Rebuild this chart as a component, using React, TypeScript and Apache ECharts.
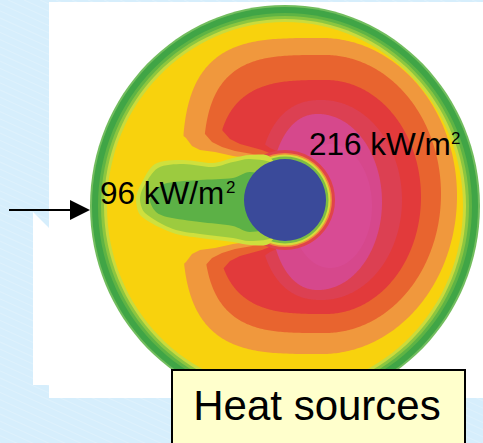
import { useEffect, useRef } from "react";
import * as echarts from "echarts";

// ---- data ----
const fluxValues = [96, 216]; // kW/m² labels: edge of plume, hottest zone
const fluxUnit = "kW/m";
const fluxSup = "2";
const boxLabel = "Heat sources";

// contour bands (outermost first)
const bandColors = ["#f0983d", "#e8642f", "#e23a3b", "#dc4052", "#d6488c", "#d84b94"];
const bandGeom = [
  { cx: 322, cy: 196, aL: 140, aR: 135, b: 158, nL: 3.5 },
  { cx: 325, cy: 194, aL: 122, aR: 116, b: 139, nL: 3.5 },
  { cx: 326, cy: 197, aL: 110, aR: 95, b: 117, nL: 3.2 },
  { cx: 322, cy: 200, aL: 64, aR: 80, b: 100, nL: 2.4 },
  { cx: 318, cy: 202, aL: 48, aR: 64, b: 88, nL: 2.2 },
  { cx: 330, cy: 206, aL: 40, aR: 42, b: 62, nL: 2 },
];
const bandNotch: (number[][] | null)[] = [
  [[170, 75], [186, 62], [192, 54], [200, 50], [215, 48], [233, 44], [255, 41], [280, 30], [305, 0]],
  [[185, 80], [205, 66], [212, 58], [222, 53], [235, 49], [258, 45], [280, 36], [305, 0]],
  [[200, 85], [222, 70], [230, 61], [240, 56], [262, 50], [282, 42], [305, 0]],
  [[150, 66], [255, 62], [270, 52], [285, 45], [305, 0]],
  null,
  null,
];
const ringColors = ["#72bd5e", "#40a546", "#5fb444", "#8cc640", "#cadb3c", "#f8d20d"];
const ringInset = [0, 2, 8, 11, 14, 17];

const plumePale = [[136,200],[140,186],[155,164],[183,160],[213,163],[233,158],[250,155],[270,157],[290,200],[270,243],[250,245],[233,242],[200,238],[173,233],[141,216]];
const plumeLight = [[140,200],[143,188],[158,168],[183,164],[213,167],[233,162],[250,159],[275,165],[290,200],[275,236],[250,241],[233,238],[200,234],[173,229],[145,213]];
const plumeInner = [[150,200],[158,188],[167,183],[200,180],[233,178],[250,172],[275,180],[290,200],[275,225],[250,232],[233,226],[200,222],[167,217],[156,212]];

const NY = 200;

function hAt(prof: number[][], x: number) {
  if (x <= prof[0][0]) return prof[0][1];
  for (let i = 1; i < prof.length; i++) {
    if (x <= prof[i][0]) {
      const [x0, h0] = prof[i - 1];
      const [x1, h1] = prof[i];
      return h0 + ((h1 - h0) * (x - x0)) / (x1 - x0);
    }
  }
  return 0;
}

function bandPoints(g: any, notch: number[][] | null) {
  const N = 480;
  const raw: { p: number[]; cut: boolean }[] = [];
  for (let i = 0; i < N; i++) {
    const t = (2 * Math.PI * i) / N;
    const c = Math.cos(t);
    const s = Math.sin(t);
    const left = c < 0;
    const n = left ? g.nL : 2;
    const a = left ? g.aL : g.aR;
    const x = g.cx + a * Math.sign(c) * Math.pow(Math.abs(c), 2 / n);
    const y = g.cy + g.b * Math.sign(s) * Math.pow(Math.abs(s), 2 / n);
    const cut = !!notch && left && Math.abs(y - NY) < hAt(notch, x);
    raw.push({ p: [x, y], cut });
  }
  if (!notch) return raw.map((r) => r.p);
  const first = raw.findIndex((r) => r.cut);
  if (first < 0) return raw.map((r) => r.p);
  let last = first;
  while (last + 1 < raw.length && raw[last + 1].cut) last++;
  const before = raw[first - 1].p;
  const after = raw[last + 1].p;
  const out: number[][] = raw.slice(0, first).map((r) => r.p);
  out.push([before[0], NY + hAt(notch, before[0])]);
  notch.forEach((q) => {
    if (q[0] > before[0]) out.push([q[0], NY + q[1]]);
  });
  [...notch].reverse().forEach((q) => {
    if (q[0] > after[0] && q[1] > 0) out.push([q[0], NY - q[1]]);
  });
  out.push([after[0], NY - hAt(notch, after[0])]);
  raw.slice(last + 1).forEach((r) => out.push(r.p));
  return out;
}

const FONT = '"Liberation Sans", Arial, sans-serif';

function buildElements() {
  const els: any[] = [];
  let z = 0;
  const add = (e: any) => els.push({ ...e, z: z++ });

  add({ type: "rect", shape: { x: 0, y: 0, width: 483, height: 443 }, style: { fill: "#d6eefc" } });
  for (let x0 = -1000; x0 < 500; x0 += 16) {
    add({
      type: "line",
      shape: { x1: x0, y1: 0, x2: x0 + 1000, y2: 450 },
      style: { stroke: "rgba(255,255,255,0.18)", lineWidth: 1.2 },
    });
  }
  add({ type: "rect", shape: { x: 49, y: 2, width: 434, height: 396 }, style: { fill: "#ffffff" } });
  add({ type: "polygon", shape: { points: [[33, 212], [50, 229], [50, 385], [33, 385]] }, style: { fill: "#ffffff" } });

  // outer rings
  ringColors.forEach((col, i) => {
    add({
      type: "ellipse",
      shape: { cx: 285, cy: 206, rx: 195 - ringInset[i], ry: 201 - ringInset[i] },
      style: { fill: col },
    });
  });

  // contour bands
  bandColors.forEach((col, i) => {
    add({ type: "polygon", shape: { points: bandPoints(bandGeom[i], bandNotch[i]) }, style: { fill: col } });
  });

  // halo round the core
  add({ type: "circle", shape: { cx: 285, cy: 200, r: 50 }, style: { fill: "#e0444a" } });
  add({ type: "circle", shape: { cx: 285, cy: 200, r: 47 }, style: { fill: "#ee8a3a" } });
  add({ type: "circle", shape: { cx: 285, cy: 200, r: 45.5 }, style: { fill: "#d6dc3c" } });
  add({ type: "circle", shape: { cx: 285, cy: 200, r: 43.5 }, style: { fill: "#7cbd44" } });

  // plume
  add({ type: "polygon", shape: { points: plumePale, smooth: 0.3 }, style: { fill: "#cfe03d" } });
  add({ type: "polygon", shape: { points: plumeLight, smooth: 0.3 }, style: { fill: "#9ccb3f" } });
  add({ type: "polygon", shape: { points: plumeInner, smooth: 0.3 }, style: { fill: "#5cb146" } });

  // core
  add({ type: "circle", shape: { cx: 285, cy: 200, r: 41 }, style: { fill: "#3a4a9a" } });

  // labels
  add({
    type: "text",
    style: { x: 100, y: 192.5, text: `${fluxValues[0]} ${fluxUnit}`, fontSize: 31.5, fontFamily: FONT, fill: "#000", align: "left", verticalAlign: "middle" },
  });
  add({
    type: "text",
    style: { x: 226, y: 187, text: fluxSup, fontSize: 17, fontFamily: FONT, fill: "#000", align: "left", verticalAlign: "middle" },
  });
  add({
    type: "text",
    style: { x: 309, y: 144, text: `${fluxValues[1]} ${fluxUnit}`, fontSize: 31.5, fontFamily: FONT, fill: "#000", align: "left", verticalAlign: "middle" },
  });
  add({
    type: "text",
    style: { x: 451, y: 138.5, text: fluxSup, fontSize: 17, fontFamily: FONT, fill: "#000", align: "left", verticalAlign: "middle" },
  });

  // arrow
  add({ type: "line", shape: { x1: 9, y1: 210, x2: 74, y2: 210 }, style: { stroke: "#000", lineWidth: 2 } });
  add({ type: "polygon", shape: { points: [[70, 200], [90, 210], [70, 220]] }, style: { fill: "#000" } });

  // box
  add({ type: "rect", shape: { x: 172, y: 370, width: 293, height: 90 }, style: { fill: "#ffffcc", stroke: "#000", lineWidth: 2 } });
  add({
    type: "text",
    style: { x: 317, y: 405, text: boxLabel, fontSize: 42, fontFamily: FONT, fill: "#000", align: "center", verticalAlign: "middle" },
  });
  return els;
}

export default function App() {
  const ref = useRef<HTMLDivElement>(null);
  useEffect(() => {
    const chart = echarts.init(ref.current!, null, { renderer: "svg" });
    chart.setOption({ animation: false, graphic: { elements: buildElements() } });
    return () => chart.dispose();
  }, []);
  return <div ref={ref} style={{ position: "absolute", left: 0, top: 0, width: 483, height: 443 }} />;
}
